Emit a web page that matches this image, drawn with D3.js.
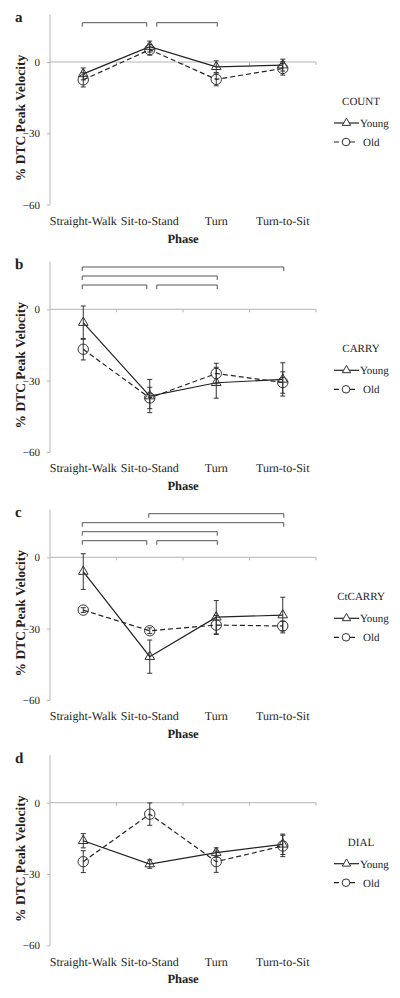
<!DOCTYPE html>
<html>
<head>
<meta charset="utf-8">
<script src="https://cdn.jsdelivr.net/npm/d3@7"></script>
<style>
  html, body { margin: 0; padding: 0; background: #fff; }
  svg { display: block; }
  text { font-family: "Liberation Serif", "DejaVu Serif", serif; fill: #222; text-rendering: geometricPrecision; }
</style>
</head>
<body>
<script>
// ---------- data ----------
const categories = ["Straight-Walk", "Sit-to-Stand", "Turn", "Turn-to-Sit"];
const yTicks = [0, -30, -60];
const panelLetters = ["a", "b", "c", "d"];
const taskNames = ["COUNT", "CARRY", "CtCARRY", "DIAL"];
const seriesNames = ["Young", "Old"];

const countYoung = [-5, 6.5, -2, -1.3];
const countYoungErr = [2.5, 2.3, 2.5, 2.5];
const countOld = [-7.5, 5.2, -7.3, -2.7];
const countOldErr = [3, 2.3, 2.7, 2.8];

const carryYoung = [-5.6, -36.5, -30.9, -29.5];
const carryYoungErr = [7, 7, 6.5, 7];
const carryOld = [-16.8, -37.3, -27, -30.8];
const carryOldErr = [4.5, 4.5, 4.3, 4.5];

const ctcarryYoung = [-6, -41.8, -25.2, -24.3];
const ctcarryYoungErr = [7.5, 7, 7, 7.5];
const ctcarryOld = [-22.2, -30.9, -28.5, -28.9];
const ctcarryOldErr = [1, 1.2, 4, 2];

const dialYoung = [-16, -25.8, -21, -17.5];
const dialYoungErr = [3, 1.8, 2, 4.3];
const dialOld = [-24.8, -4.8, -24.8, -18.2];
const dialOldErr = [4.6, 4.7, 4.5, 4.5];

// significance brackets: [fromCategory, toCategory, level]
const countBrackets = [[0, 1, 0], [1, 2, 0]];
const carryBrackets = [[0, 1, 0], [1, 2, 0], [0, 2, 1], [0, 3, 2]];
const ctcarryBrackets = [[0, 1, 0], [1, 2, 0], [0, 2, 1], [0, 3, 2], [1, 3, 3]];
const dialBrackets = [];

// ---------- layout ----------
const W = 400, H = 998;
const zeroYs = [62, 309.3, 557.3, 802.7];
const bracketBase = [-39.3, -24.3, -16.6, 0];
const bracketStep = 9;

const panels = [
  { young: countYoung, youngErr: countYoungErr, old: countOld, oldErr: countOldErr, brackets: countBrackets },
  { young: carryYoung, youngErr: carryYoungErr, old: carryOld, oldErr: carryOldErr, brackets: carryBrackets },
  { young: ctcarryYoung, youngErr: ctcarryYoungErr, old: ctcarryOld, oldErr: ctcarryOldErr, brackets: ctcarryBrackets },
  { young: dialYoung, youngErr: dialYoungErr, old: dialOld, oldErr: dialOldErr, brackets: dialBrackets }
];

const svg = d3.select("body").append("svg").attr("width", W).attr("height", H);
svg.append("rect").attr("width", W).attr("height", H).attr("fill", "#fff");

const x = d3.scaleBand().domain(categories).range([50, 316]).padding(0);
const cx = c => x(c) + x.bandwidth() / 2;

const triangle = d3.symbol().type(d3.symbolTriangle).size(40);
const triangleSmall = d3.symbol().type(d3.symbolTriangle).size(30);

panels.forEach((p, pi) => {
  const zero = zeroYs[pi];
  const y = d3.scaleLinear().domain([-60, 20]).range([zero + 142.6, zero - 47.5]);
  const g = svg.append("g");

  // y axis
  const ya = g.append("g").attr("transform", "translate(50,0)")
    .call(d3.axisLeft(y).tickValues(yTicks).tickSize(3).tickSizeOuter(0).tickPadding(7).tickFormat(d3.format("d")));
  ya.select(".domain").attr("stroke", "#b5b5b5").attr("d", `M0,${y(20)}V${y(-60)}`);
  ya.selectAll(".tick line").attr("stroke", "#b5b5b5");
  ya.selectAll(".tick text").style("font-family", "Liberation Serif, serif").style("font-size", "11px").attr("fill", "#333");

  // zero line with boundary ticks
  g.append("line").attr("x1", 50).attr("x2", 316).attr("y1", y(0)).attr("y2", y(0))
    .attr("stroke", "#b5b5b5").attr("stroke-width", 1);
  g.selectAll(".bt").data(categories).enter().append("line")
    .attr("x1", c => x(c) + x.bandwidth()).attr("x2", c => x(c) + x.bandwidth())
    .attr("y1", y(0)).attr("y2", y(0) + 3).attr("stroke", "#b5b5b5");

  // category labels
  const xa = g.append("g").attr("transform", `translate(0,${y(-60)})`)
    .call(d3.axisBottom(x).tickSize(0).tickPadding(12));
  xa.select(".domain").remove();
  xa.selectAll(".tick text").style("font-family", "Liberation Serif, serif").style("font-size", "12px").attr("fill", "#222");

  // Phase title
  g.append("text").attr("x", 183).attr("y", y(-60) + 38).attr("text-anchor", "middle")
    .style("font-weight", "bold").style("font-size", "12.5px").text("Phase");

  // y title
  g.append("text").attr("transform", `translate(20,${zero + 56}) rotate(-90)`)
    .attr("text-anchor", "middle").attr("dy", "0.35em")
    .style("font-weight", "bold").style("font-size", "13.5px").text("% DTC Peak Velocity");

  // panel letter
  g.append("text").attr("x", 15).attr("y", zero - 40).style("font-weight", "bold").style("font-size", "15px")
    .text(panelLetters[pi]);

  // brackets
  p.brackets.forEach(([i, j, lev]) => {
    const sameLevel = p.brackets.filter(b => b[2] === lev);
    const startsShared = sameLevel.some(b => b[1] === i);
    const endsShared = sameLevel.some(b => b[0] === j);
    const x1 = cx(categories[i]) - 1 + (startsShared ? 8 : 0);
    const x2 = cx(categories[j]) + 1 - (endsShared ? 4 : 0);
    const by = zero + bracketBase[pi] - lev * bracketStep;
    g.append("path").attr("d", `M${x1},${by + 4}V${by}H${x2}V${by + 4}`)
      .attr("fill", "none").attr("stroke", "#555").attr("stroke-width", 1);
  });

  // series
  const series = [
    { name: seriesNames[0], vals: p.young, errs: p.youngErr, dash: null, marker: "tri" },
    { name: seriesNames[1], vals: p.old, errs: p.oldErr, dash: "5,3", marker: "circ" }
  ];
  series.forEach(s => {
    const pts = categories.map((c, k) => ({ c, v: s.vals[k], e: s.errs[k] }));
    const eb = g.append("g");
    pts.forEach(d => {
      const xx = cx(d.c);
      eb.append("line").attr("x1", xx).attr("x2", xx).attr("y1", y(d.v + d.e)).attr("y2", y(d.v - d.e))
        .attr("stroke", "#333").attr("stroke-width", 1);
      [d.v + d.e, d.v - d.e].forEach(v => {
        eb.append("line").attr("x1", xx - 2.5).attr("x2", xx + 2.5).attr("y1", y(v)).attr("y2", y(v))
          .attr("stroke", "#333").attr("stroke-width", 1);
      });
    });
    g.append("path").datum(pts)
      .attr("d", d3.line().x(d => cx(d.c)).y(d => y(d.v)))
      .attr("fill", "none").attr("stroke", "#222").attr("stroke-width", 1.2)
      .attr("stroke-dasharray", s.dash);
    pts.forEach(d => {
      if (s.marker === "tri") {
        g.append("path").attr("d", triangle()).attr("transform", `translate(${cx(d.c)},${y(d.v)})`)
          .attr("fill", "none").attr("stroke", "#333").attr("stroke-width", 1);
      } else {
        g.append("circle").attr("cx", cx(d.c)).attr("cy", y(d.v)).attr("r", 5.2)
          .attr("fill", "none").attr("stroke", "#333").attr("stroke-width", 1);
      }
    });
  });

  // legend
  g.append("text").attr("x", 361).attr("y", zero + 39).attr("text-anchor", "middle").attr("dy", "0.35em")
    .style("font-size", "11px").text(taskNames[pi]);
  const ly1 = zero + 61, ly2 = zero + 80;
  g.append("line").attr("x1", 334).attr("x2", 359).attr("y1", ly1).attr("y2", ly1).attr("stroke", "#222").attr("stroke-width", 1.2);
  g.append("path").attr("d", triangleSmall()).attr("transform", `translate(346.5,${ly1})`)
    .attr("fill", "#fff").attr("stroke", "#333").attr("stroke-width", 1);
  g.append("text").attr("x", 360).attr("y", ly1).attr("dy", "0.35em").style("font-size", "11px").text(seriesNames[0]);
  g.append("line").attr("x1", 334).attr("x2", 357).attr("y1", ly2).attr("y2", ly2).attr("stroke", "#222").attr("stroke-width", 1.2)
    .attr("stroke-dasharray", "5,3");
  g.append("circle").attr("cx", 346).attr("cy", ly2).attr("r", 3.8).attr("fill", "#fff").attr("stroke", "#333").attr("stroke-width", 1);
  g.append("text").attr("x", 363).attr("y", ly2).attr("dy", "0.35em").style("font-size", "11px").text(seriesNames[1]);
});
</script>
</body>
</html>
